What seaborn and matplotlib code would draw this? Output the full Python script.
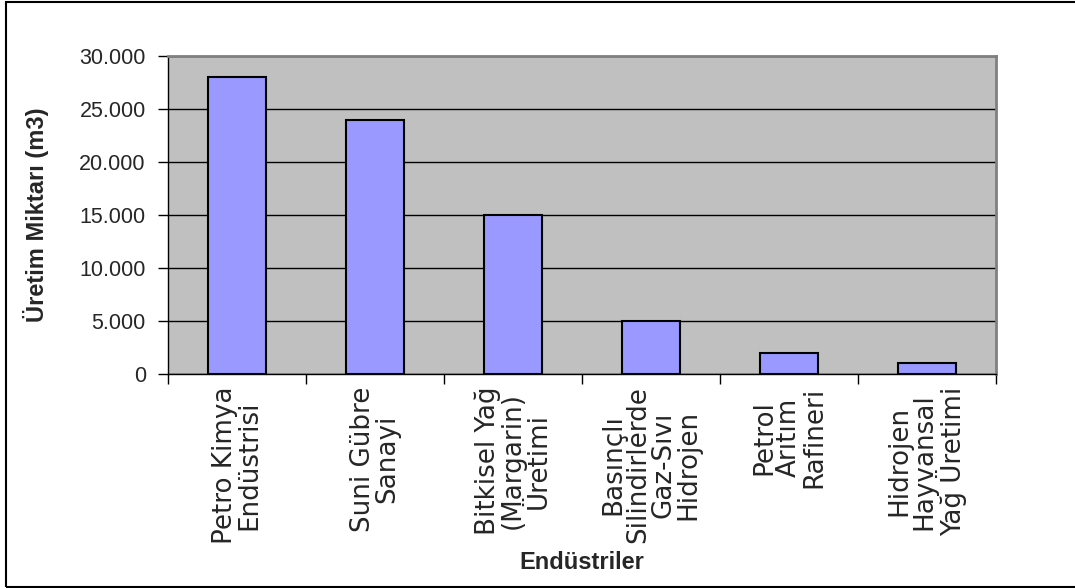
import matplotlib
matplotlib.use("Agg")
import matplotlib.pyplot as plt
import matplotlib.patches as mpatches
from matplotlib.ticker import FuncFormatter, FixedLocator
import pandas as pd
import seaborn as sns

# production amounts per industry (m3)
industries = [
    "Petro Kimya\nEndüstrisi",
    "Suni Gübre\nSanayi",
    "Bitkisel Yağ\n(Margarin)\nÜretimi",
    "Basınçlı\nSilindirlerde\nGaz-Sıvı\nHidrojen",
    "Petrol\nArıtım\nRafineri",
    "Hidrojen\nHayvansal\nYağ Üretimi",
]
production = [28000, 24000, 15000, 5000, 2000, 1000]
y_ticks = [0, 5000, 10000, 15000, 20000, 25000, 30000]

df = pd.DataFrame({"industry": industries, "production": production})

sns.set_style("white")
plt.rcParams["font.family"] = ["Liberation Sans", "DejaVu Sans"]

fig = plt.figure(figsize=(10.75, 5.88), dpi=100)
ax = fig.add_axes([168 / 1075, 1 - 374 / 588, (996 - 168) / 1075, (374 - 56) / 588])

sns.barplot(data=df, x="industry", y="production", color="#9999FF",
            saturation=1, width=0.42, edgecolor="black", linewidth=1.5,
            ax=ax, zorder=3)

ax.set_facecolor("#C0C0C0")
ax.set_ylim(0, 30000)
ax.set_xlim(-0.5, len(industries) - 0.5)
ax.set_yticks(y_ticks)
ax.yaxis.set_major_formatter(FuncFormatter(lambda v, p: f"{int(v):,}".replace(",", ".")))
ax.grid(axis="y", color="black", linewidth=1, zorder=0)
ax.set_axisbelow(True)

for side in ["top", "right"]:
    ax.spines[side].set_color("#808080")
    ax.spines[side].set_linewidth(2)
for side in ["left", "bottom"]:
    ax.spines[side].set_color("black")
    ax.spines[side].set_linewidth(1)

ax.tick_params(axis="y", direction="out", length=7, width=1, color="black",
               labelsize=15.5, pad=9, left=True)
# x ticks at category boundaries, labels at category centers
ax.xaxis.set_major_locator(FixedLocator([i + 0.5 for i in range(-1, len(industries))]))
ax.xaxis.set_minor_locator(FixedLocator(range(len(industries))))
ax.set_xticklabels([""] * (len(industries) + 1))
ax.set_xticklabels(industries, minor=True, rotation=90, fontfamily="DejaVu Sans",
                   fontsize=18.8, linespacing=0.95, ha="center", va="top", ma="center")
ax.tick_params(axis="x", which="major", direction="out", length=7, width=1,
               color="black", bottom=True)
ax.tick_params(axis="x", which="minor", length=0, pad=9)

ax.set_xlabel("Endüstriler", fontsize=17, fontweight="bold", labelpad=5)
ax.set_ylabel("Üretim Miktarı (m3)", fontsize=17, fontweight="bold", labelpad=22)

# outer chart frame
fig.patches.append(mpatches.Rectangle((6 / 1075, 1 / 588), 1.02, 1 - 3 / 588,
                                      transform=fig.transFigure, fill=False,
                                      edgecolor="black", linewidth=1.5))

fig.savefig("out.png", dpi=100)
